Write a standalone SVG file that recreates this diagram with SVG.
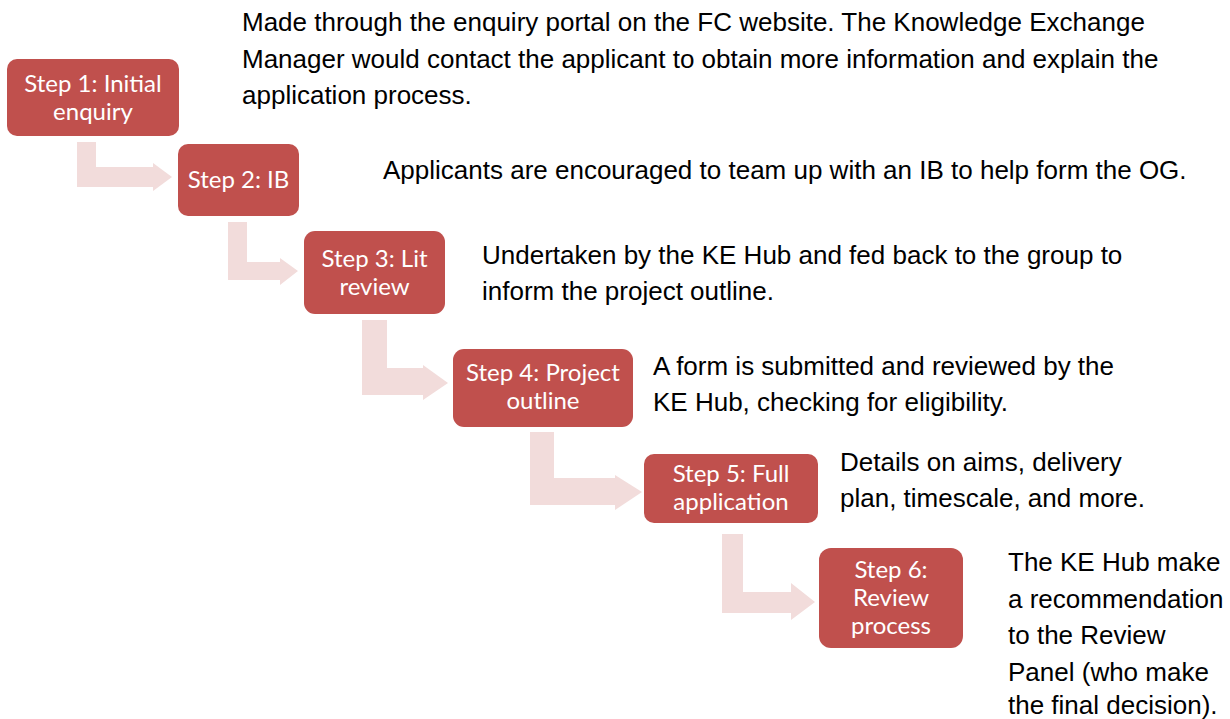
<svg xmlns="http://www.w3.org/2000/svg" width="1230" height="719" viewBox="0 0 1230 719">
  <style>
    .step rect { fill: #C0504D; }
    .step text { fill: #ffffff; font-family: Lato, "Open Sans", sans-serif; font-size: 24px; text-anchor: middle; }
    .arrow { fill: #F2DCDB; }
    .note { fill: #000000; font-family: "Liberation Sans", Arial, sans-serif; font-size: 26px; }
  </style>
  <rect width="1230" height="719" fill="#ffffff"/>

  <!-- bent arrows leading from one step down to the next -->
  <g id="connectors">
    <polygon class="arrow" points="77,142 96,142 96,167 153,167 153,163 172,177 153,191 153,187 77,187"/>
    <polygon class="arrow" points="228,222 247,222 247,262 280,262 280,258 298,271 280,285 280,280 228,280"/>
    <polygon class="arrow" points="362,320 387,320 387,368 423,368 423,365 448,383 423,400 423,395 362,395"/>
    <polygon class="arrow" points="530,432 554,432 554,478 615,478 615,475 642,492 615,510 615,505 530,505"/>
    <polygon class="arrow" points="722,534 743,534 743,592 791,592 791,583 815,602 791,620 791,613 722,613"/>
  </g>

  <g id="step1" class="step">
    <rect x="7" y="59" width="172" height="77" rx="10"/>
    <text x="93" y="92">Step 1: Initial</text>
    <text x="93" y="120">enquiry</text>
  </g>
  <g id="step2" class="step">
    <rect x="178" y="144" width="121" height="72" rx="10"/>
    <text x="238.5" y="188">Step 2: IB</text>
  </g>
  <g id="step3" class="step">
    <rect x="304" y="231" width="141" height="83" rx="11"/>
    <text x="374.5" y="267">Step 3: Lit</text>
    <text x="374.5" y="295">review</text>
  </g>
  <g id="step4" class="step">
    <rect x="453" y="349" width="180" height="78" rx="11"/>
    <text x="543" y="381">Step 4: Project</text>
    <text x="543" y="409">outline</text>
  </g>
  <g id="step5" class="step">
    <rect x="644" y="454" width="174" height="69" rx="10"/>
    <text x="731" y="482">Step 5: Full</text>
    <text x="731" y="510">application</text>
  </g>
  <g id="step6" class="step">
    <rect x="819" y="548" width="144" height="100" rx="12"/>
    <text x="891" y="578">Step 6:</text>
    <text x="891" y="606">Review</text>
    <text x="891" y="634">process</text>
  </g>

  <!-- descriptions beside each step -->
  <g id="note1">
    <text class="note" x="242" y="31">Made through the enquiry portal on the FC website. The Knowledge Exchange</text>
    <text class="note" x="242" y="67.5">Manager would contact the applicant to obtain more information and explain the</text>
    <text class="note" x="242" y="104">application process.</text>
  </g>
  <g id="note2">
    <text class="note" x="383" y="179">Applicants are encouraged to team up with an IB to help form the OG.</text>
  </g>
  <g id="note3">
    <text class="note" x="482" y="264">Undertaken by the KE Hub and fed back to the group to</text>
    <text class="note" x="482" y="300">inform the project outline.</text>
  </g>
  <g id="note4">
    <text class="note" x="653" y="375">A form is submitted and reviewed by the</text>
    <text class="note" x="653" y="411">KE Hub, checking for eligibility.</text>
  </g>
  <g id="note5">
    <text class="note" x="840" y="471">Details on aims, delivery</text>
    <text class="note" x="840" y="507">plan, timescale, and more.</text>
  </g>
  <g id="note6">
    <text class="note" x="1008" y="571">The KE Hub make</text>
    <text class="note" x="1008" y="607.5">a recommendation</text>
    <text class="note" x="1008" y="644">to the Review</text>
    <text class="note" x="1008" y="680.5">Panel (who make</text>
    <text class="note" x="1008" y="714">the final decision).</text>
  </g>
</svg>
